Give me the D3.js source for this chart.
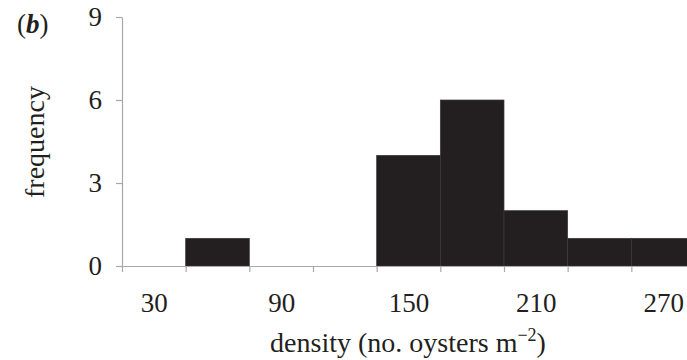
<!DOCTYPE html>
<html>
<head>
<meta charset="utf-8">
<script src="https://cdn.jsdelivr.net/npm/d3@7"></script>
<style>
  body { margin: 0; background: #fff; }
  svg text { font-family: "Liberation Serif", "Times New Roman", serif; fill: #231f20; }
</style>
</head>
<body>
<div id="chart"></div>
<script>
// bin edges (density) and counts per bin
var binStart = [45, 135, 165, 195, 225, 255];
var binEnd   = [75, 165, 195, 225, 255, 285];
var counts   = [1, 4, 6, 2, 1, 1];

var xEdges  = [15, 45, 75, 105, 135, 165, 195, 225, 255, 285];
var xLabels = [30, 90, 150, 210, 270];
var yTicks  = [0, 3, 6, 9];

var width = 687, height = 360;
var axisColor = '#a8a8a8', barColor = '#231f20';

var svg = d3.select('#chart').append('svg')
	.attr('width', width)
	.attr('height', height);

var xScale = d3.scaleLinear().domain([15, 285]).range([122, 695]),
	yScale = d3.scaleLinear().domain([0, 9]).range([266, 17]);

var data = counts.map(function(c, i){ return {x0: binStart[i], x1: binEnd[i], n: c}; });

// bars
svg.append('g').selectAll('rect')
	.data(data)
	.enter().append('rect')
		.attr('x', function(d){ return xScale(d.x0); })
		.attr('y', function(d){ return yScale(d.n); })
		.attr('width', function(d){ return xScale(d.x1) - xScale(d.x0); })
		.attr('height', function(d){ return yScale(0) - yScale(d.n); })
		.style('fill', barColor)
		.style('stroke', '#3c393a')
		.style('stroke-width', 0.7);

// x axis: ticks at bin edges
svg.append('g')
	.attr('transform', 'translate(0,' + yScale(0) + ')')
	.call(d3.axisBottom(xScale).tickValues(xEdges).tickFormat('').tickSize(6).tickSizeOuter(0));

// x labels at bin centres
var xLab = svg.append('g')
	.attr('transform', 'translate(0,' + yScale(0) + ')')
	.call(d3.axisBottom(xScale).tickValues(xLabels).tickSize(0).tickPadding(27));
xLab.select('.domain').remove();

// y axis
svg.append('g')
	.attr('transform', 'translate(' + xScale(15) + ',0)')
	.call(d3.axisLeft(yScale).tickValues(yTicks).tickSize(6).tickSizeOuter(0).tickPadding(14));

svg.selectAll('.domain, .tick line').attr('stroke', axisColor).attr('stroke-width', 1.2);
svg.selectAll('.tick text').style('font-size', '27px').attr('fill', '#231f20');

// axis titles
svg.append('text')
	.attr('transform', 'translate(44,142) rotate(-90)')
	.attr('text-anchor', 'middle')
	.style('font-size', '28px')
	.text('frequency');

var xt = svg.append('text')
	.attr('x', 408)
	.attr('y', 352)
	.attr('text-anchor', 'middle')
	.style('font-size', '28px');
xt.append('tspan').text('density (no. oysters m');
xt.append('tspan').attr('dy', -11).style('font-size', '18px').text('\u22122');
xt.append('tspan').attr('dy', 11).text(')');

// panel letter
var pl = svg.append('text')
	.attr('x', 17)
	.attr('y', 33)
	.style('font-size', '27px');
pl.append('tspan').text('(');
pl.append('tspan').style('font-style', 'italic').style('font-weight', 'bold').text('b');
pl.append('tspan').text(')');
</script>
</body>
</html>
